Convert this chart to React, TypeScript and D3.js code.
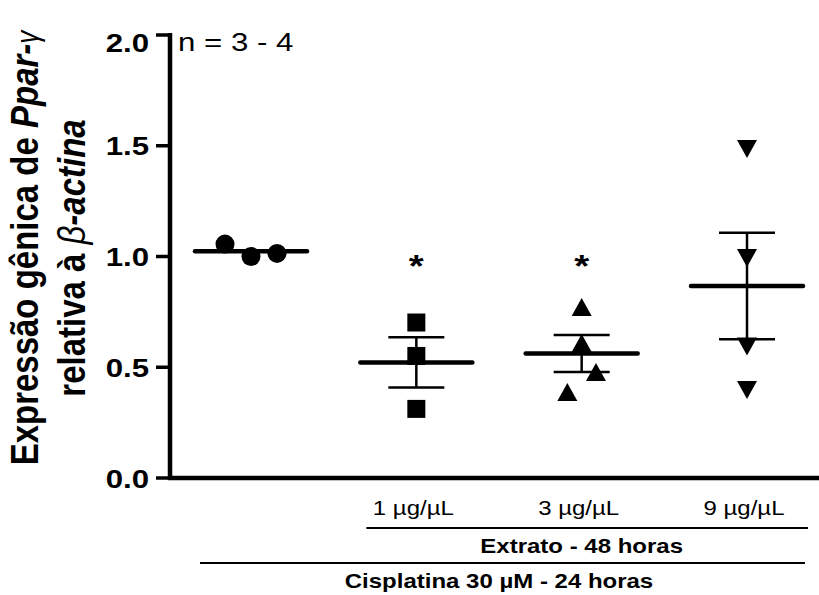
import React from "react";
import * as d3 from "d3";

// groups (column order as in the figure)
const groupKeys = ["cisplatina", "ext1", "ext3", "ext9"];
const doseLabels = ["", "1 µg/µL", "3 µg/µL", "9 µg/µL"];

// Ppar-γ / β-actina relative expression
const cisplatinaValues = [1.056, 1.0, 1.014];
const ext1Values = [0.702, 0.551, 0.312];
const ext3Values = [0.772, 0.609, 0.479, 0.388];
const ext9Values = [1.485, 0.993, 0.594, 0.397];

const yTicks = [0, 0.5, 1.0, 1.5, 2.0];
const significant = [false, true, true, false];
const showSem = [false, true, true, true];
const markerShapes = ["circle", "square", "triangle", "triangleDown"];

// layout
const W = 819;
const H = 595;
const SX = 1.2; // text in the original is stretched horizontally
const FONT = "Arial, 'Liberation Sans', sans-serif";
const jitter = [[-1, 0, 1], [0, 0, 0], [0, 0, 0.55, -0.55], [0, 0, 0, 0]];
const JIT = 26;

const allValues = [cisplatinaValues, ext1Values, ext3Values, ext9Values];

const markerPath = (shape: string) => {
  if (shape === "circle") return d3.symbol(d3.symbolCircle, Math.PI * 9.5 * 9.5)()!;
  if (shape === "square") return d3.symbol(d3.symbolSquare, 18 * 18)()!;
  const w = 10, h = 9;
  const p = d3.path();
  if (shape === "triangle") {
    p.moveTo(0, -h); p.lineTo(w, h); p.lineTo(-w, h);
  } else {
    p.moveTo(-w, -h); p.lineTo(w, -h); p.lineTo(0, h);
  }
  p.closePath();
  return p.toString();
};

const SText: React.FC<{
  x: number; y: number; size: number; bold?: boolean; anchor?: string; rotate?: boolean; children: React.ReactNode;
}> = ({ x, y, size, bold, anchor = "middle", rotate, children }) => (
  <text
    transform={`translate(${x},${y}) scale(${SX},1)${rotate ? " rotate(-90)" : ""}`}
    fontSize={size}
    fontWeight={bold ? "bold" : "normal"}
    textAnchor={anchor}
    fontFamily={FONT}
    fill="#000"
  >
    {children}
  </text>
);

export default function App() {
  const x = d3.scalePoint<string>().domain(groupKeys).range([251, 747]);
  const y = d3.scaleLinear().domain([0, 2]).range([478, 35]);
  const fmt = d3.format(".1f");
  const axisX = 170;
  const x0 = y(0);

  const stats = allValues.map((v) => {
    const m = d3.mean(v)!;
    const sem = d3.deviation(v)! / Math.sqrt(v.length);
    return { m, sem };
  });

  const first = x(groupKeys[0])!;
  const ext1 = x(groupKeys[1])!;
  const last = x(groupKeys[3])!;

  return (
    <div style={{ position: "absolute", left: 0, top: 0 }}>
      <svg width={W} height={H} style={{ display: "block", background: "#fff" }}>
        {/* y axis */}
        <line x1={axisX} x2={axisX} y1={y(2) - 2} y2={x0 + 2} stroke="#000" strokeWidth={4.5} />
        {yTicks.map((t) => (
          <g key={t}>
            <line x1={axisX - 14} x2={axisX} y1={y(t)} y2={y(t)} stroke="#000" strokeWidth={3.5} />
            <SText x={149} y={Math.max(y(t), 42) + 9.5} size={26} bold anchor="end">
              {fmt(t)}
            </SText>
          </g>
        ))}
        {/* x axis */}
        <line x1={axisX - 2} x2={W} y1={x0} y2={x0} stroke="#000" strokeWidth={4.5} />

        {/* y title */}
        <SText x={38} y={248} size={33} bold rotate>
          Expressão gênica de <tspan fontStyle="italic">Ppar-</tspan>
          <tspan fontStyle="italic" fontWeight="normal" fontSize={26}>γ</tspan>
        </SText>
        <SText x={85} y={258} size={33} bold rotate>
          relativa à <tspan fontStyle="italic" fontWeight="normal">β</tspan>
          <tspan fontStyle="italic">-actina</tspan>
        </SText>

        <SText x={178} y={51} size={26} anchor="start">
          n = 3 - 4
        </SText>

        {/* points */}
        {allValues.map((vals, gi) => {
          const cx = x(groupKeys[gi])!;
          const d = markerPath(markerShapes[gi]);
          return vals.map((v, i) => (
            <path key={`${gi}-${i}`} d={d} transform={`translate(${cx + jitter[gi][i] * JIT},${y(v)})`} fill="#000" />
          ));
        })}

        {/* mean ± SEM */}
        {stats.map((s, gi) => {
          const cx = x(groupKeys[gi])!;
          return (
            <g key={gi} stroke="#000">
              <line x1={cx - 56} x2={cx + 56} y1={y(s.m)} y2={y(s.m)} strokeWidth={4.5} strokeLinecap="round" />
              {showSem[gi] && (
                <>
                  <line x1={cx} x2={cx} y1={y(s.m + s.sem)} y2={y(s.m - s.sem)} strokeWidth={2.5} />
                  <line x1={cx - 28} x2={cx + 28} y1={y(s.m + s.sem)} y2={y(s.m + s.sem)} strokeWidth={2.5} />
                  <line x1={cx - 28} x2={cx + 28} y1={y(s.m - s.sem)} y2={y(s.m - s.sem)} strokeWidth={2.5} />
                </>
              )}
            </g>
          );
        })}

        {/* significance */}
        {significant.map((sig, gi) =>
          sig ? (
            <SText key={gi} x={x(groupKeys[gi])!} y={y(1.0) + 20} size={32} bold>
              *
            </SText>
          ) : null
        )}

        {/* category labels */}
        {doseLabels.map((l, gi) =>
          l ? (
            <SText key={gi} x={x(groupKeys[gi])! - 3} y={515} size={20}>
              {l}
            </SText>
          ) : null
        )}
        <line x1={ext1 - 50} x2={last + 61} y1={528} y2={528} stroke="#000" strokeWidth={2} />
        <SText x={(ext1 + last) / 2} y={553} size={20} bold>
          Extrato - 48 horas
        </SText>
        <line x1={first - 51} x2={last + 58} y1={563} y2={563} stroke="#000" strokeWidth={2} />
        <SText x={(first + last) / 2} y={588} size={20} bold>
          Cisplatina 30 µM - 24 horas
        </SText>
      </svg>
    </div>
  );
}
